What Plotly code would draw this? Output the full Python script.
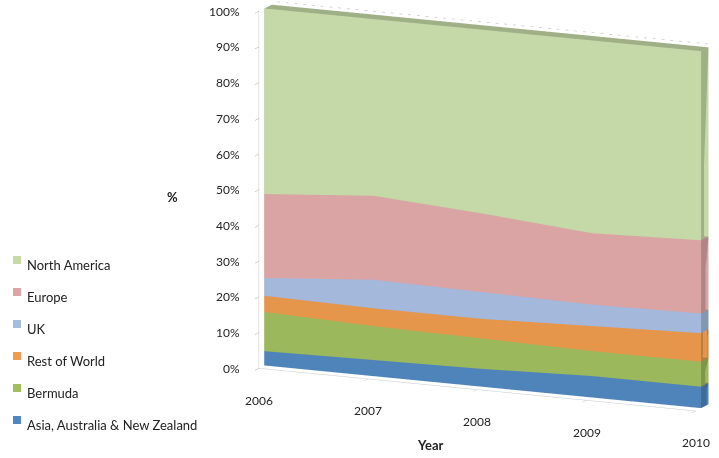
import plotly.graph_objects as go

years = [2006, 2007, 2008, 2009, 2010]
series_names = ["Asia, Australia & New Zealand", "Bermuda", "Rest of World",
                "UK", "Europe", "North America"]
asia = [4.0, 4.5, 5.0, 6.0, 6.0]
bermuda = [11.0, 9.5, 8.5, 7.0, 7.0]
rest_of_world = [4.5, 5.0, 5.5, 7.0, 8.0]
uk = [5.0, 8.0, 7.5, 6.0, 5.5]
europe = [23.5, 23.5, 22.0, 20.0, 20.5]
north_america = [52.0, 49.5, 51.5, 54.0, 53.0]
series_values = [asia, bermuda, rest_of_world, uk, europe, north_america]
pct_ticks = list(range(0, 101, 10))
pct_labels = [f"{v}%" for v in pct_ticks]

front_colors = ["#4f84bb", "#9bb85c", "#e5964b", "#a3b8db", "#d9a4a3", "#c5d8a7"]
side_colors = ["#3f6b99", "#7e964a", "#ba7a3c", "#8596b2", "#b08584", "#9fb087"]
swatch_colors = ["#4f87c4", "#9fbe5e", "#f29a50", "#a7bde0", "#dea3a4", "#c6dba6"]

y_front, y_back = 0.3, 0.7   # depth of the extruded ribbon
label_font = dict(family="Lato", size=12, color="#222222")

fig = go.Figure()

lower = [0.0] * len(years)
for name, vals, fc, sc in zip(series_names, series_values, front_colors, side_colors):
    upper = [lo + v for lo, v in zip(lower, vals)]
    xs, ys, zs = [], [], []
    # 4 vertices per year: front-low, front-high, back-low, back-high
    for xv, lo, hi in zip(years, lower, upper):
        xs += [xv, xv, xv, xv]
        ys += [y_front, y_front, y_back, y_back]
        zs += [lo, hi, lo, hi]
    I, J, K, C = [], [], [], []

    def quad(a, b, c, d, col):
        I.extend([a, a]); J.extend([b, c]); K.extend([c, d]); C.extend([col, col])

    n = len(years)
    for t in range(n - 1):
        a, b = 4 * t, 4 * (t + 1)
        quad(a + 0, a + 1, b + 1, b + 0, fc)      # front
        quad(a + 1, a + 3, b + 3, b + 1, sc)      # top
        quad(a + 0, a + 2, b + 2, b + 0, sc)      # bottom
        quad(a + 2, a + 3, b + 3, b + 2, fc)      # back
    e = 4 * (n - 1)
    quad(e + 0, e + 1, e + 3, e + 2, sc)          # right end
    quad(0, 1, 3, 2, sc)                          # left end

    fig.add_trace(go.Mesh3d(
        x=xs, y=ys, z=zs, i=I, j=J, k=K, facecolor=C, name=name,
        flatshading=True, hoverinfo="skip", showscale=False,
        lighting=dict(ambient=1.0, diffuse=0.0, specular=0.0, roughness=1.0, fresnel=0.0),
    ))
    lower = upper

# dashed back edge of the plot box
fig.add_trace(go.Scatter3d(x=[years[0], years[-1]], y=[1, 1], z=[100, 100], mode="lines",
                           line=dict(color="#c8c8c8", width=1.5, dash="dash"),
                           hoverinfo="skip", showlegend=False))

# tick labels placed in scene coordinates, offset from the axis lines
scene_annotations = []
for yr in years:
    scene_annotations.append(dict(x=yr, y=0, z=0, text=str(yr), showarrow=False,
                                  xanchor="center", yanchor="middle", yshift=-32,
                                  font=label_font))
for v, lab in zip(pct_ticks, pct_labels):
    scene_annotations.append(dict(x=years[0], y=0, z=v, text=lab, showarrow=False,
                                  xanchor="right", yanchor="middle", xshift=-17,
                                  font=label_font))

# legend drawn as swatches + labels, North America on top
legend_top = 265 / 458
step = 32 / 458
for idx, (name, col) in enumerate(zip(series_names[::-1], swatch_colors[::-1])):
    yc = 1 - (legend_top + idx * step)
    fig.add_shape(type="rect", xref="paper", yref="paper",
                  x0=13 / 719, x1=21 / 719, y0=yc + 1 / 458, y1=yc + 9 / 458,
                  line=dict(width=0), fillcolor=col)
    fig.add_annotation(x=25 / 719, y=yc, xref="paper", yref="paper", text=name,
                       showarrow=False, xanchor="left", yanchor="middle",
                       font=dict(family="Lato", size=13, color="#222222"))

# axis titles
title_font = dict(family="Lato", size=13, color="#222222")
fig.add_annotation(x=172 / 719, y=1 - 197 / 458, xref="paper", yref="paper",
                   text="<b>%</b>", showarrow=False, xanchor="center", yanchor="middle",
                   font=title_font)
fig.add_annotation(x=430 / 719, y=1 - 445 / 458, xref="paper", yref="paper",
                   text="<b>Year</b>", showarrow=False, xanchor="center", yanchor="middle",
                   font=title_font)

axis_common = dict(showbackground=False, showgrid=False, zeroline=False,
                   showspikes=False, showline=True, linecolor="#c8c8c8", linewidth=1,
                   ticks="outside", tickcolor="#aaaaaa", ticklen=5,
                   showticklabels=False, title=dict(text=""))

fig.update_layout(
    width=719, height=458, margin=dict(l=0, r=0, t=0, b=0),
    paper_bgcolor="white", showlegend=False,
    scene=dict(
        domain=dict(x=[0.33, 1.0], y=[0.0, 1.0]),
        xaxis=dict(axis_common, range=[2006, 2010], tickvals=years),
        yaxis=dict(axis_common, range=[0, 1], visible=False),
        zaxis=dict(axis_common, range=[0, 100], tickvals=pct_ticks),
        aspectmode="manual", aspectratio=dict(x=2.08, y=0.2, z=1.6),
        camera=dict(eye=dict(x=0.59, y=-1.45, z=0.26), center=dict(x=-0.04, y=0, z=-0.105),
                    up=dict(x=0, y=0, z=1), projection=dict(type="orthographic")),
        annotations=scene_annotations,
    ),
)

fig.write_html("out.html")
